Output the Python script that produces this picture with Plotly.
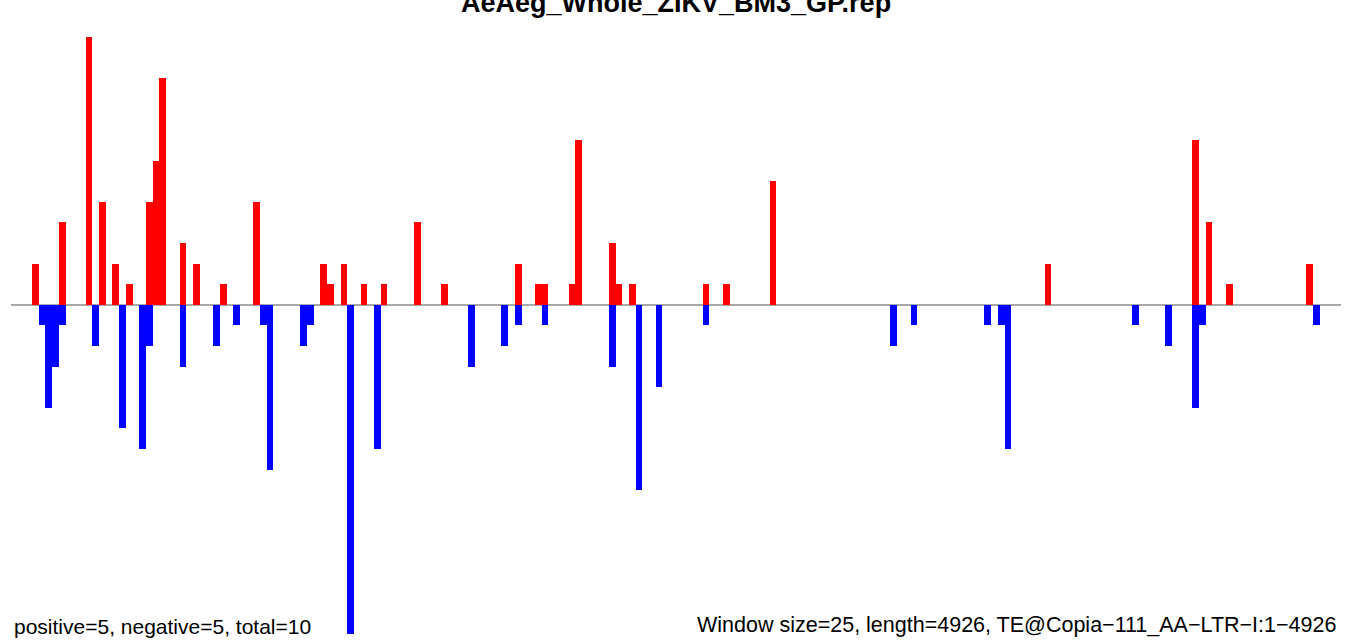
import plotly.graph_objects as go

# ---- data (window index -> count) ----
title_text = "AeAeg_Whole_ZIKV_BM3_GP.rep"
left_note = "positive=5, negative=5, total=10"
right_note = "Window size=25, length=4926, TE@Copia\u2212111_AA\u2212LTR\u2212I:1\u22124926"

pos_bins = [0, 4, 8, 10, 12, 14, 17, 18, 19, 22, 24, 28, 33, 43, 44, 46, 49, 52,
            57, 61, 72, 75, 76, 80, 81, 86, 87, 89, 100, 103, 110, 151, 173, 175,
            178, 190]
pos_vals = [2, 4, 13, 5, 2, 1, 5, 7, 11, 3, 2, 1, 5, 2, 1, 2, 1, 1,
            4, 1, 2, 1, 1, 1, 8, 3, 1, 1, 1, 1, 6, 2, 8, 4,
            1, 2]

neg_bins = [1, 2, 3, 4, 9, 13, 16, 17, 22, 27, 30, 34, 35, 40, 41, 47, 51,
            65, 70, 72, 76, 86, 90, 93, 100, 128, 131, 142, 144, 145, 164, 169,
            173, 174, 191]
neg_vals = [1, 5, 3, 1, 2, 6, 7, 2, 3, 2, 1, 1, 8, 2, 1, 16, 7,
            3, 2, 1, 1, 3, 9, 4, 1, 2, 1, 1, 1, 7, 1, 2,
            5, 1, 1]

FONT = "Liberation Sans, Arial, Helvetica, sans-serif"

fig = go.Figure()
fig.add_trace(go.Bar(
    x=[b + 0.5 for b in pos_bins], y=pos_vals, width=1,
    marker=dict(color="#FF0000", line=dict(width=0)), name="positive",
    hoverinfo="x+y"))
fig.add_trace(go.Bar(
    x=[b + 0.5 for b in neg_bins], y=[-v for v in neg_vals], width=1,
    marker=dict(color="#0000FF", line=dict(width=0)), name="negative",
    hoverinfo="x+y"))

W, H = 1351, 643
ml, mr = 11, 10
pw = W - ml - mr

def px(p):
    return (p - ml) / pw

def py(p):
    return 1 - p / H

fig.update_layout(
    width=W, height=H,
    margin=dict(l=ml, r=mr, t=0, b=0, pad=0),
    paper_bgcolor="white", plot_bgcolor="white",
    barmode="overlay", bargap=0, showlegend=False,
    font=dict(family=FONT, color="black"),
    xaxis=dict(range=[-3.131, 195.17], showgrid=False, zeroline=False,
               showticklabels=False, ticks="", showline=False, fixedrange=True),
    yaxis=dict(range=[-16.422, 14.791], showgrid=False, zeroline=True,
               zerolinecolor="#A9A9A9", zerolinewidth=2,
               showticklabels=False, ticks="", showline=False, fixedrange=True),
    annotations=[
        dict(text="<b>" + title_text + "</b>", xref="paper", yref="paper",
             x=px(676), y=py(3), xanchor="center", yanchor="middle",
             showarrow=False, font=dict(size=27, family=FONT, color="black")),
        dict(text=left_note, xref="paper", yref="paper",
             x=px(12), y=py(626), xanchor="left", yanchor="middle",
             showarrow=False, font=dict(size=21, family=FONT, color="black")),
        dict(text=right_note, xref="paper", yref="paper",
             x=px(1338), y=py(625), xanchor="right", yanchor="middle",
             showarrow=False, font=dict(size=21.5, family=FONT, color="black")),
    ],
)

fig.write_html(
    "out.html",
    config={"displayModeBar": False},
    post_script="document.body.style.margin='0';document.body.style.overflow='hidden';",
)
